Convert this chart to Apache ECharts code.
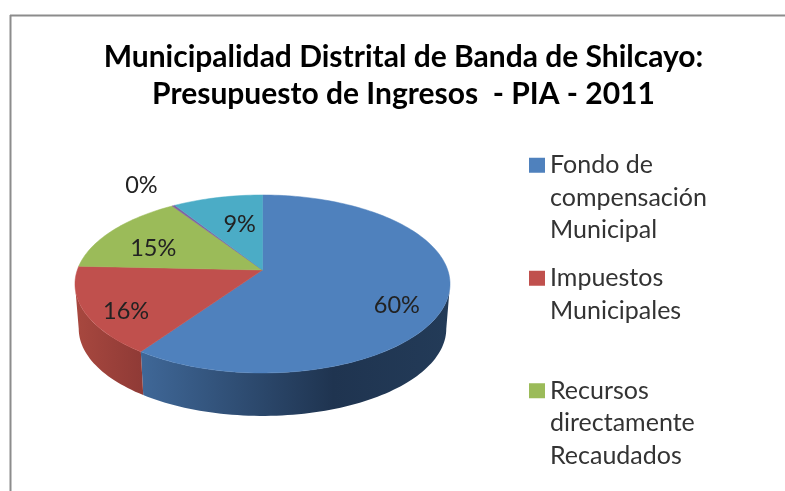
<!DOCTYPE html>
<html>
<head>
<meta charset="utf-8">
<style>html,body{margin:0;padding:0;background:#fff}#c{width:785px;height:491px}</style>
<script src="https://cdn.jsdelivr.net/npm/echarts@6/dist/echarts.min.js"></script>
</head>
<body>
<div id="c"></div>
<script>
const titleText = 'Municipalidad Distrital de Banda de Shilcayo:\nPresupuesto de Ingresos  - PIA - 2011';
const categories = ['Fondo de\ncompensación\nMunicipal', 'Impuestos\nMunicipales', 'Recursos\ndirectamente\nRecaudados', 'Otros (recortado)', 'Otros 2 (recortado)'];
const values = [59.7, 16, 15, 0.3, 9];
const colors = ['#4F81BD', '#C0504D', '#9BBB59', '#8064A2', '#4BACC6'];

const total = values.reduce((a, b) => a + b, 0);
const G = {cx: 262.5, ay: 270, R: 185.2, S: 86.8, k: 0.157, ay2: 315, scale2: 0.98};
const sideFrom = 90 + Math.asin(G.k) * 180 / Math.PI, sideTo = 360 - sideFrom;
const labelShift = [[-3, 15], [-5, 11], [5, 9], [-13, -6], [12, 11]];
const labelRadius = [0.75, 0.75, 0.75, 1.25, 0.75];
const sideFill = [
  new echarts.graphic.LinearGradient(143, 0, 450, 0, [
    {offset: 0, color: '#3F6797'}, {offset: 0.62, color: '#1F3450'}, {offset: 1, color: '#233B58'}], true),
  new echarts.graphic.LinearGradient(75, 0, 143, 0, [
    {offset: 0, color: '#A8483F'}, {offset: 1, color: '#8F3A36'}], true)
];

function project(deg, f, lower) {
  const a = deg * Math.PI / 180, u = Math.sin(a) * f, v = Math.cos(a) * f;
  const w = 1 + G.k * v, s = lower ? G.scale2 : 1;
  return [G.cx + G.R * s * u / w, (lower ? G.ay2 : G.ay) - G.S * s * v / w];
}
function arc(from, to, lower) {
  const pts = [], n = Math.max(2, Math.ceil(Math.abs(to - from) / 1.5));
  for (let i = 0; i <= n; i++) pts.push(project(from + (to - from) * i / n, 1, lower));
  return pts;
}
function renderSlice(params, api) {
  const i = params.seriesIndex;
  const start = values.slice(0, i).reduce((a, b) => a + b, 0) / total * 360;
  const end = start + api.value(0) / total * 360;
  const children = [];
  const s0 = Math.max(start, sideFrom), s1 = Math.min(end, sideTo);
  if (s1 > s0 && sideFill[i]) {
    children.push({
      type: 'polygon', z2: 1,
      shape: {points: arc(s0, s1, false).concat(arc(s1, s0, true))},
      style: {fill: sideFill[i], stroke: null}
    });
  }
  children.push({
    type: 'polygon', z2: 5,
    shape: {points: [[G.cx, G.ay]].concat(arc(start, end, false))},
    style: {fill: colors[i], stroke: colors[i], lineWidth: 0.5}
  });
  const p = project((start + end) / 2, labelRadius[i], false);
  children.push({
    type: 'text', z2: 10,
    x: p[0] + labelShift[i][0], y: p[1] + labelShift[i][1],
    style: {
      text: Math.round(api.value(0) / total * 100) + '%',
      font: '23.5px Lato', fill: '#222', align: 'center', verticalAlign: 'middle'
    }
  });
  return {type: 'group', children};
}

// The legend centres its text on the icon; leading blank lines put the icon on the first line.
function legendFor(i, top) {
  const lines = categories[i].split('\n').length;
  return {
    left: 529, top, padding: 0, orient: 'vertical', selectedMode: false,
    itemWidth: 16, itemHeight: 15, icon: 'rect',
    formatter: name => '\n'.repeat(lines - 1) + name,
    textStyle: {fontFamily: 'Lato', fontSize: 25, color: '#333', lineHeight: 32.5},
    data: [categories[i]]
  };
}

const chart = echarts.init(document.getElementById('c'), null, {renderer: 'canvas'});
chart.setOption({
  animation: false,
  backgroundColor: '#fff',
  title: {
    text: titleText, left: 398.5, top: 34, textAlign: 'center',
    textStyle: {fontFamily: 'Lato', fontWeight: 'bold', fontSize: 30, lineHeight: 37, color: '#000'}
  },
  legend: [legendFor(0, 84), legendFor(1, 229.5), legendFor(2, 309.5)],
  graphic: [
    {type: 'line', shape: {x1: 10, y1: 15.5, x2: 785, y2: 15.5}, style: {stroke: '#8C8C8C', lineWidth: 2}},
    {type: 'line', shape: {x1: 10.5, y1: 15, x2: 10.5, y2: 491}, style: {stroke: '#8C8C8C', lineWidth: 2}}
  ],
  series: values.map((v, i) => ({
    type: 'custom', name: categories[i], coordinateSystem: 'none',
    itemStyle: {color: colors[i]}, silent: true,
    renderItem: renderSlice, data: [[v]]
  }))
});
</script>
</body>
</html>
